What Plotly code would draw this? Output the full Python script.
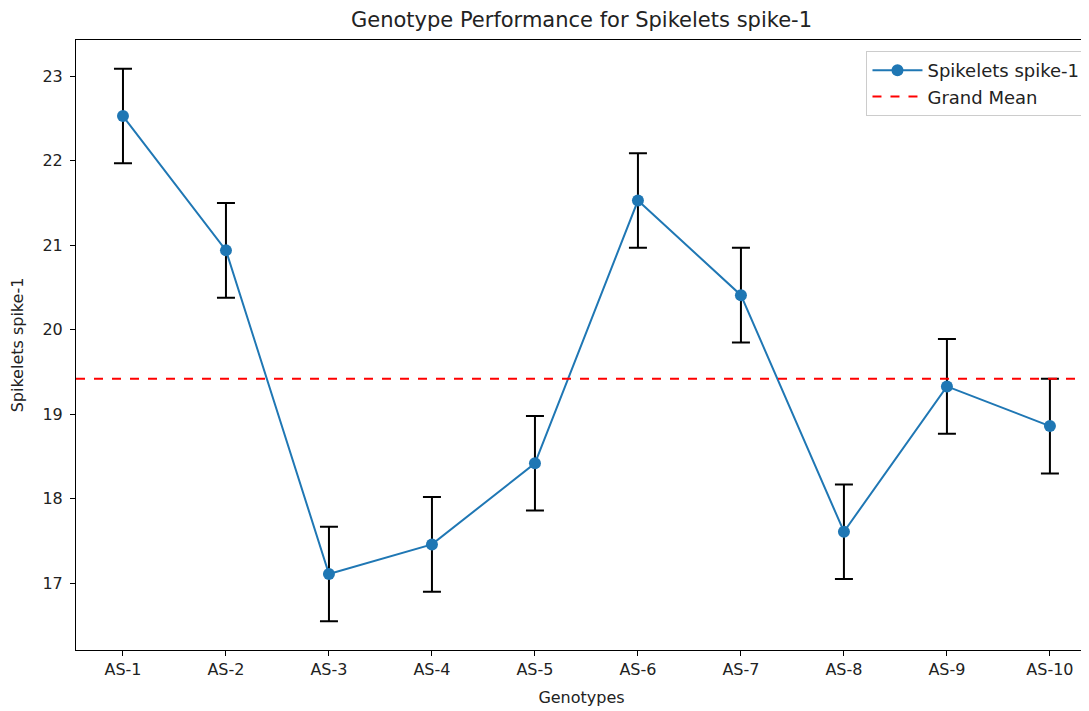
import numpy as np
import plotly.graph_objects as go

genotypes = ["AS-1", "AS-2", "AS-3", "AS-4", "AS-5", "AS-6", "AS-7", "AS-8", "AS-9", "AS-10"]
spikelets = [22.53, 20.94, 17.11, 17.46, 18.42, 21.53, 20.41, 17.61, 19.33, 18.86]
errors = [0.56, 0.56, 0.56, 0.56, 0.56, 0.56, 0.56, 0.56, 0.56, 0.56]
grand_mean = float(np.mean(spikelets))

FONT = "DejaVu Sans"
fig = go.Figure()

fig.add_trace(go.Scatter(
    x=genotypes, y=spikelets, mode="lines+markers", name="Spikelets spike-1",
    line=dict(color="#1f77b4", width=2),
    marker=dict(color="#1f77b4", size=12),
    error_y=dict(type="data", array=errors, visible=True, color="black", thickness=2, width=9),
))
fig.add_trace(go.Scatter(
    x=[None], y=[None], mode="lines", name="Grand Mean",
    line=dict(color="red", width=2, dash="dash"),
))
fig.add_shape(type="line", xref="paper", x0=0, x1=1, yref="y", y0=grand_mean, y1=grand_mean,
              line=dict(color="red", width=2, dash="dash"))

axis_common = dict(showline=True, linecolor="black", linewidth=1, mirror=True, ticks="outside",
                   ticklen=5, tickcolor="black", showgrid=False, zeroline=False, automargin=False,
                   tickfont=dict(family=FONT, size=16, color="#222222"))
fig.update_xaxes(**axis_common, range=[-0.456, 9.36],
                 title=dict(text="Genotypes", font=dict(family=FONT, size=16, color="#222222"), standoff=13))
fig.update_yaxes(**axis_common, range=[16.21, 23.43], tickvals=[17, 18, 19, 20, 21, 22, 23],
                 ticklabelstandoff=4,
                 title=dict(text="Spikelets spike-1", font=dict(family=FONT, size=16, color="#222222"), standoff=14))

fig.update_layout(
    width=1081, height=703,
    margin=dict(l=68, r=2, t=32, b=61, autoexpand=False),
    paper_bgcolor="white", plot_bgcolor="white",
    font=dict(family=FONT, color="#222222"),
    title=dict(text="Genotype Performance for Spikelets spike-1", x=0.5, xanchor="center",
               xref="paper", y=0.983, yanchor="middle", font=dict(family=FONT, size=21, color="#222222")),
    legend=dict(x=0.9985, y=0.982, xanchor="right", yanchor="top", bgcolor="rgba(255,255,255,0.8)",
                bordercolor="#cccccc", borderwidth=1, font=dict(family=FONT, size=18, color="#222222"),
                tracegroupgap=0, itemwidth=50),
    showlegend=True,
)

fig.write_html("out.html")
